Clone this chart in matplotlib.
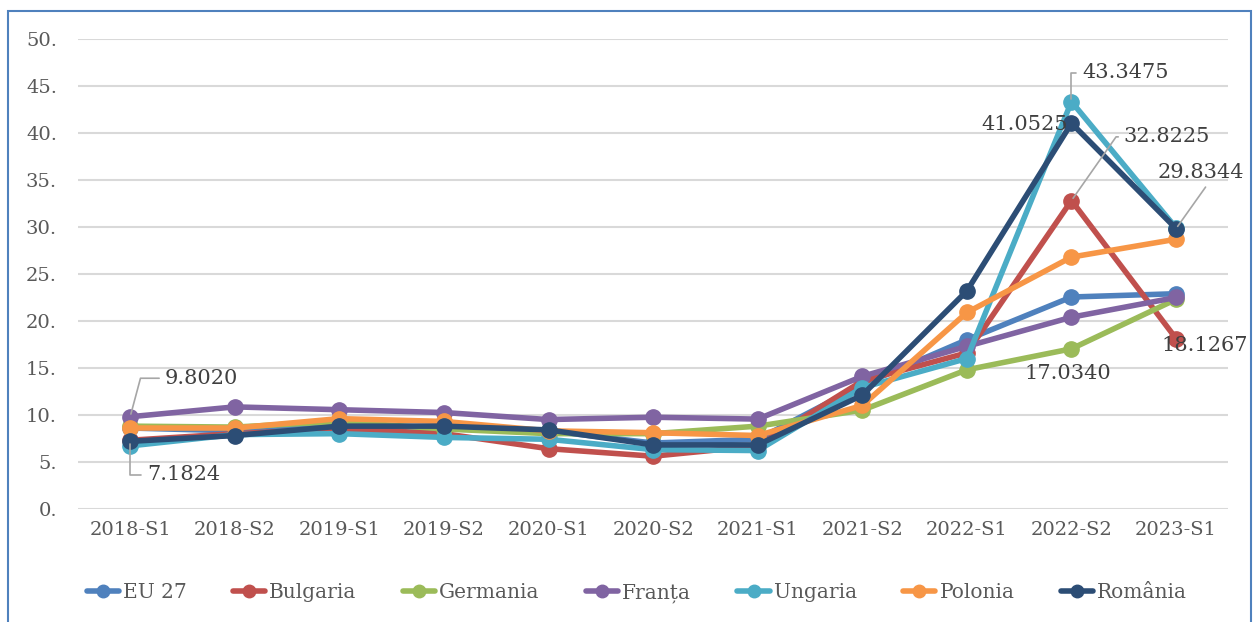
import matplotlib

matplotlib.use("Agg")
import matplotlib.pyplot as plt
from matplotlib.patches import Rectangle

periods = ["2018-S1", "2018-S2", "2019-S1", "2019-S2", "2020-S1", "2020-S2",
           "2021-S1", "2021-S2", "2022-S1", "2022-S2", "2023-S1"]

eu27 = [8.6, 8.3, 8.8, 8.5, 8.3, 7.0, 7.4, 13.2, 18.0, 22.55, 22.9]
bulgaria = [7.3, 8.0, 8.5, 8.0, 6.4, 5.6, 6.7, 13.6, 16.6, 32.8225, 18.1267]
germania = [8.8, 8.7, 9.3, 8.5, 8.0, 8.0, 8.8, 10.5, 14.8, 17.034, 22.3]
franta = [9.802, 10.85, 10.55, 10.25, 9.5, 9.75, 9.55, 14.1, 17.3, 20.4, 22.5]
ungaria = [6.7, 7.9, 8.0, 7.6, 7.4, 6.3, 6.2, 12.9, 16.0, 43.3475, 29.9]
polonia = [8.6, 8.6, 9.6, 9.3, 8.3, 8.1, 7.8, 11.0, 20.9, 26.8, 28.7]
romania = [7.1824, 7.8, 8.8, 8.8, 8.4, 6.8, 6.8, 12.1, 23.2, 41.0525, 29.8344]

series = [
    ("EU 27", eu27, "#4f81bd"),
    ("Bulgaria", bulgaria, "#c0504d"),
    ("Germania", germania, "#9bbb59"),
    ("Franța", franta, "#8064a2"),
    ("Ungaria", ungaria, "#4bacc6"),
    ("Polonia", polonia, "#f79646"),
    ("România", romania, "#2c4d75"),
]

plt.rcParams["font.family"] = ["DejaVu Serif"]

fig = plt.figure(figsize=(12.56, 6.22), dpi=100)
ax = fig.add_axes([0.062, 0.182, 0.916, 0.755])

x = list(range(len(periods)))
for name, vals, col in series:
    ax.plot(x, vals, color=col, lw=4, marker="o", ms=11, label=name,
            solid_capstyle="round")

ax.set_xlim(-0.5, len(periods) - 0.5)
ax.set_ylim(0, 50)
ax.set_yticks(range(0, 51, 5))
ax.set_yticklabels([f"{v}." for v in range(0, 51, 5)])
ax.set_xticks(x)
ax.set_xticklabels(periods)
ax.tick_params(length=0, labelsize=14, colors="#595959", pad=9)
ax.tick_params(axis="y", pad=15)
ax.grid(axis="y", color="#d9d9d9", lw=1.5)
ax.set_axisbelow(True)
for s in ax.spines.values():
    s.set_visible(False)

lc = "#a6a6a6"
fs = 15
tc = "#404040"
ax.annotate("9.8020", xy=(0, 9.802), xytext=(0.33, 13.9), fontsize=fs, color=tc,
            va="center", arrowprops=dict(arrowstyle="-", color=lc, lw=1.2,
                                         connectionstyle="angle,angleA=0,angleB=75,rad=0"))
ax.annotate("7.1824", xy=(0, 7.1824), xytext=(0.16, 3.6), fontsize=fs, color=tc,
            va="center", arrowprops=dict(arrowstyle="-", color=lc, lw=1.2,
                                         connectionstyle="angle,angleA=0,angleB=90,rad=0"))
ax.annotate("43.3475", xy=(9, 43.3475), xytext=(9.1, 46.4), fontsize=fs, color=tc,
            va="center", arrowprops=dict(arrowstyle="-", color=lc, lw=1.2,
                                         connectionstyle="angle,angleA=0,angleB=90,rad=0"))
ax.annotate("41.0525", xy=(9, 41.0525), xytext=(8.97, 40.9), fontsize=fs, color=tc,
            va="center", ha="right")
ax.annotate("32.8225", xy=(9, 32.8225), xytext=(9.5, 39.6), fontsize=fs, color=tc,
            va="center", arrowprops=dict(arrowstyle="-", color=lc, lw=1.2,
                                         connectionstyle="angle,angleA=0,angleB=55,rad=0"))
ax.annotate("29.8344", xy=(10, 29.8344), xytext=(9.82, 35.8), fontsize=fs, color=tc,
            va="center", arrowprops=dict(arrowstyle="-", color=lc, lw=1.2,
                                         relpos=(0.6, 0)))
ax.annotate("17.0340", xy=(9, 17.034), xytext=(8.55, 14.4), fontsize=fs, color=tc,
            va="center")
ax.annotate("18.1267", xy=(10, 18.1267), xytext=(9.86, 17.4), fontsize=fs, color=tc,
            va="center")

leg = fig.legend(loc="lower center", bbox_to_anchor=(0.507, 0.002), ncol=7, frameon=False,
                 fontsize=14.5, handlelength=1.6, columnspacing=2.3, handletextpad=0.2,
                 labelcolor="#595959")
for h in leg.legend_handles:
    h.set_markersize(9)

fig.patches.append(Rectangle((0.006, -0.01), 0.99, 0.993, transform=fig.transFigure,
                             fill=False, edgecolor="#4f81bd", lw=1.5))

fig.savefig("out.png", dpi=100)
